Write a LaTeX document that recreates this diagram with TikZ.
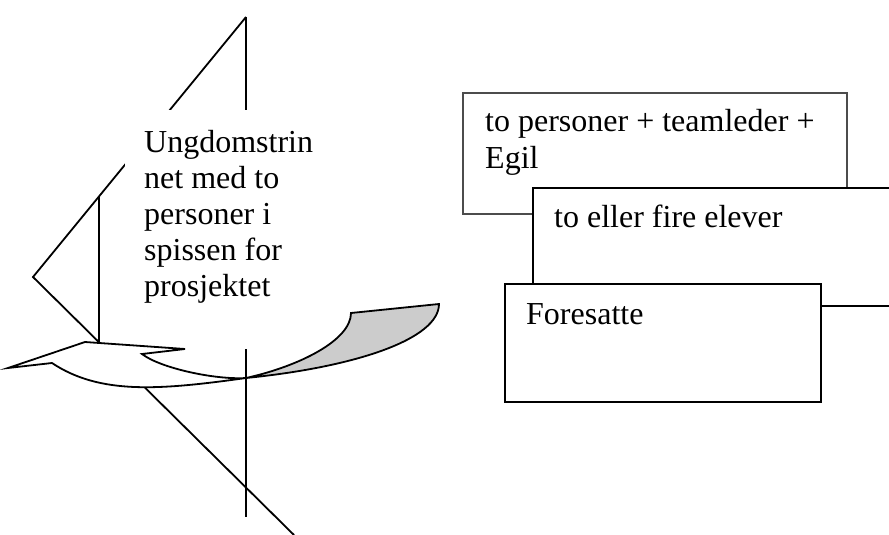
\documentclass[tikz,border=0pt]{standalone}
\usepackage{fontspec}
\setmainfont{Liberation Serif}
\begin{document}
\begin{tikzpicture}[x=1pt,y=-1pt,
  ln/.style={line width=1.8pt,black},
  txt/.style={anchor=base west,inner sep=0pt,font=\fontsize{32}{36}\selectfont},
  bx/.style={draw=black,line width=1.8pt,fill=white},
  bxg/.style={draw=black!70,line width=1.8pt,fill=white},
  arr/.style={draw=black,line width=1.8pt,line join=miter}]
\useasboundingbox (0,0) rectangle (889,535);
\clip (0,0) rectangle (889,535);
% structure lines (sail / mast)
\coordinate (top) at (246,17);
\coordinate (vtx) at (33,277);
\coordinate (end) at (294,535);
\coordinate (mb) at (246,517);
\coordinate (m2t) at (99,196);
\coordinate (m2b) at (99,350);
\draw[ln] (top) -- (vtx) -- (end);
\draw[ln] (top) -- (mb);
\draw[ln] (m2t) -- (m2b);
% white text box covering lines
\fill[white] (125,110) rectangle (332,349);
\node[txt] (u1) at (144,152) {Ungdomstrin};
\node[txt] (u2) at (144,188) {net med to};
\node[txt] (u3) at (144,224) {personer i};
\node[txt] (u4) at (144,260) {spissen for};
\node[txt] (u5) at (144,296) {prosjektet};
% curved arrow
\coordinate (X) at (246,378);
\fill[gray!40] (X) .. controls (300,366) and (351,340) .. (351,313) -- (439,304) .. controls (439,339) and (356,367) .. (X) -- cycle;
\draw[arr] (X) .. controls (300,366) and (351,340) .. (351,313) -- (439,304) .. controls (439,339) and (356,367) .. (X);
\draw[arr,fill=white] (8,368) -- (85,342) -- (185,349) -- (142,354) .. controls (160,368) and (215,380) .. (X) .. controls (160,390) and (100,395) .. (52,363) -- cycle;
% right boxes
\draw[bxg] (463,93) rectangle (847,214);
\node[txt] (b1a) at (485,131) {to personer + teamleder +};
\node[txt] (b1b) at (485,168) {Egil};
\draw[bx] (533,188) rectangle (905,306);
\node[txt] (b2) at (554,227) {to eller fire elever};
\draw[bx] (505,284) rectangle (821,402);
\node[txt] (b3) at (526,324) {Foresatte};
\end{tikzpicture}
\end{document}
